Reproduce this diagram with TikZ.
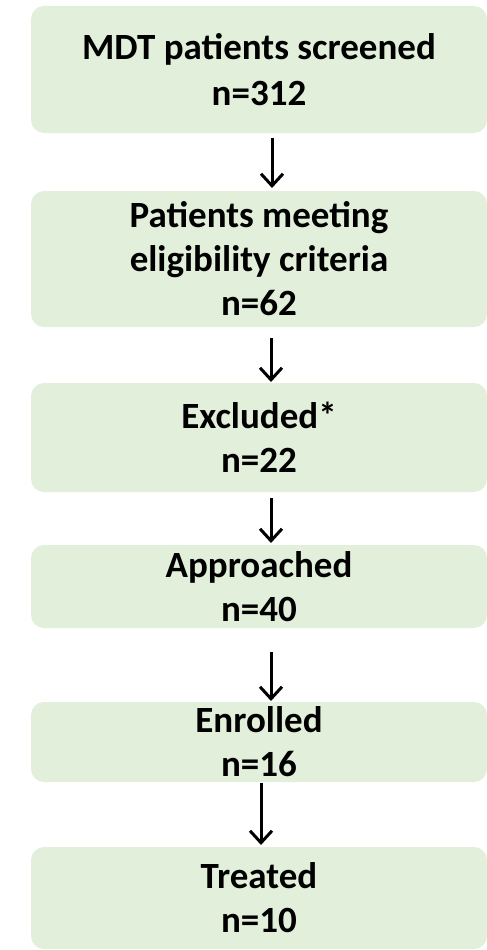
\documentclass[tikz,border=0pt]{standalone}
\usepackage{fontspec}
\setmainfont{Carlito}
\usetikzlibrary{arrows.meta,calc}
\definecolor{boxgreen}{RGB}{226,239,218}
\tikzset{
  box/.style={fill=boxgreen, draw=none, rounded corners=13pt, minimum width=456pt,
    inner sep=0pt, outer sep=0pt, align=center,
    font=\bfseries\fontsize{37}{44}\selectfont},
  arr/.style={line width=3pt, -{Straight Barb[length=12pt,width=22pt,line width=3pt]}}
}
\begin{document}
\begin{tikzpicture}[x=1pt,y=-1pt]
\useasboundingbox (0,0) rectangle (487,950);
\node[box, minimum height=127pt, font=\bfseries\fontsize{37}{46}\selectfont] (b1) at (259,69.5) {MDT patients screened\\n=312};
\node[box, minimum height=136pt] (b2) at (259,259) {Patients meeting\\eligibility criteria\\n=62};
\node[box, minimum height=109pt] (b3) at (259,437.5) {Excluded*\\n=22};
\node[box, minimum height=83pt] (b4) at (259,586.5) {Approached\\n=40};
\node[box, minimum height=80pt] (b5) at (259,742) {Enrolled\\n=16};
\node[box, minimum height=102pt] (b6) at (259,898) {Treated\\n=10};
\draw[arr] ($(b1.south)+(13,5)$) -- ($(b2.north)+(13,-3)$);
\draw[arr] ($(b2.south)+(12,11)$) -- ($(b3.north)+(12,-1)$);
\draw[arr] ($(b3.south)+(12,6)$) -- ($(b4.north)+(12,-2)$);
\draw[arr] ($(b4.south)+(12,24)$) -- ($(b5.north)+(12,-1)$);
\draw[arr] ($(b5.south)+(2,1)$) -- ($(b6.north)+(2,-2)$);
\end{tikzpicture}
\end{document}
